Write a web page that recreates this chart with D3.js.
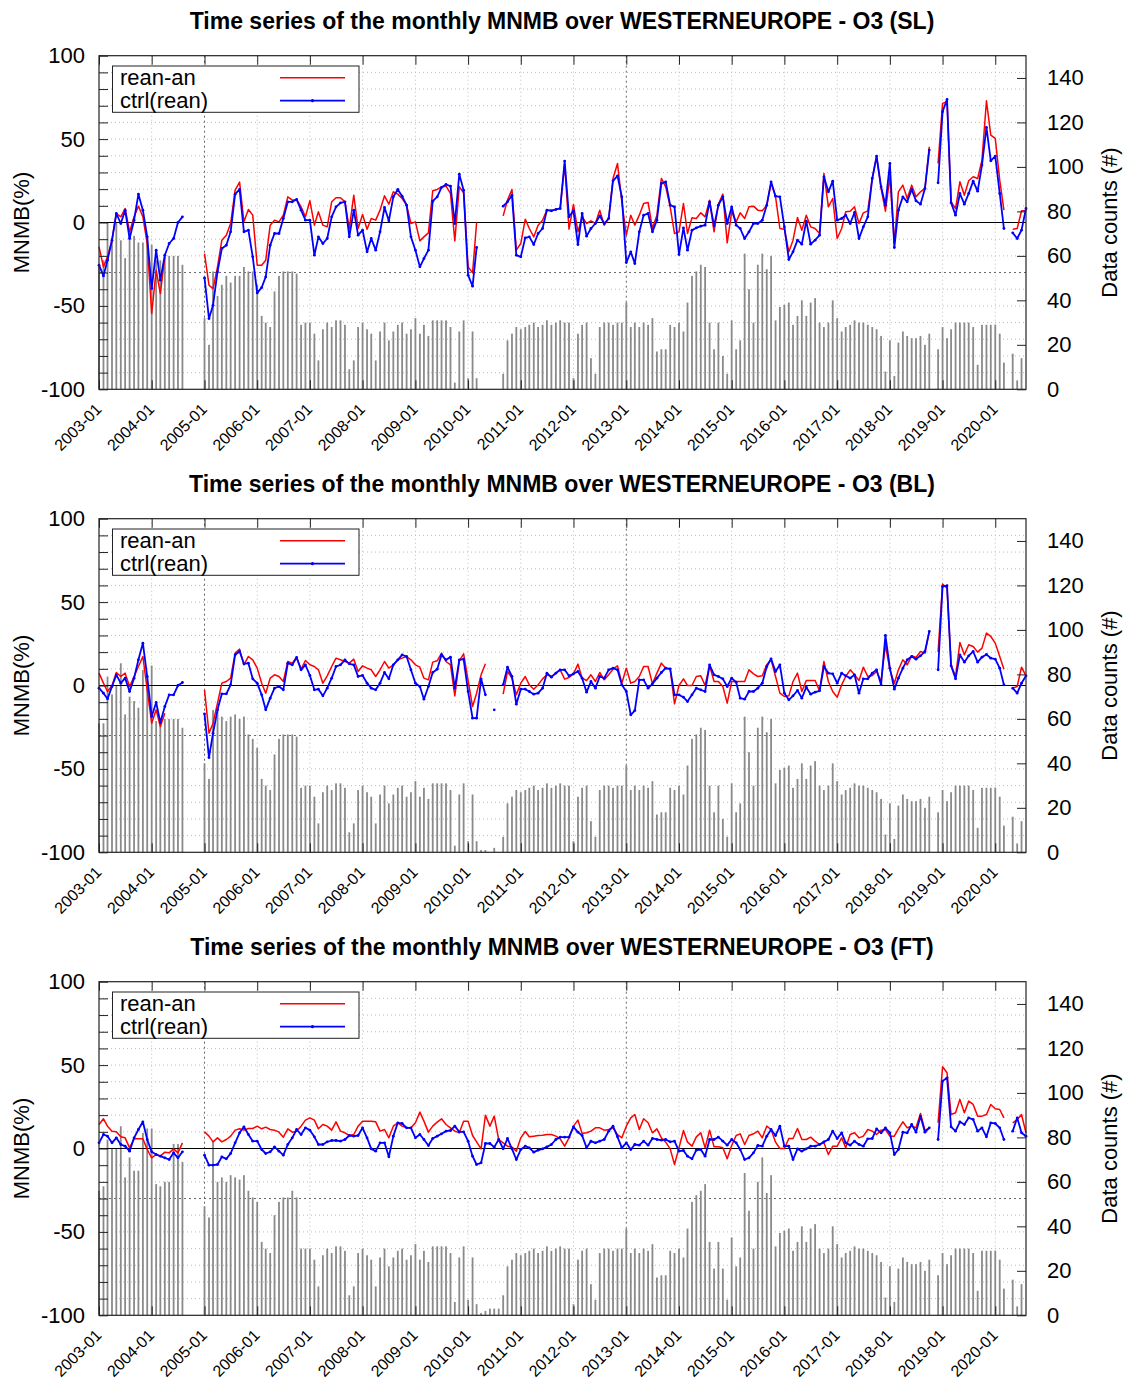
<!DOCTYPE html>
<html><head><meta charset="utf-8">
<script src="https://cdn.jsdelivr.net/npm/d3@7"></script>
<style>
body{margin:0;background:#fff}
svg{display:block}
text{font-family:"Liberation Sans",Arial,Helvetica,sans-serif;fill:#000}
</style></head>
<body><svg id="c" width="1125" height="1381"></svg>
<script>
// ---------------- DATA ----------------
const firstMonth = "2003-01", lastMonth = "2020-08";
const xTickLabels = ["2003-01","2004-01","2005-01","2006-01","2007-01","2008-01","2009-01","2010-01","2011-01","2012-01","2013-01","2014-01","2015-01","2016-01","2017-01","2018-01","2019-01","2020-01"];
const yTicksLeft = [-100,-50,0,50,100];
const yTicksRight = [0,20,40,60,80,100,120,140];
const seriesNames = ["rean-an","ctrl(rean)"];
const panelTitles = [
  "Time series of the monthly MNMB over WESTERNEUROPE - O3 (SL)",
  "Time series of the monthly MNMB over WESTERNEUROPE - O3 (BL)",
  "Time series of the monthly MNMB over WESTERNEUROPE - O3 (FT)"
];

const redSL = [-14.6,-26.6,-20.6,-10.6,5.4,3.4,8.4,-5.6,3.4,9.8,3.4,-12.6,
-54.6,-28.6,-42.6,-20.6,null,null,null,null,null,null,null,null,
-18.6,-37.6,-39.6,-26.6,-10.6,-7.6,-0.6,19.4,24.2,0.4,7.8,4.4,
-25.6,-25.6,-22.6,-1.6,1.4,0.4,4.4,15.4,13.4,13.8,9.4,3.4,
13,-1.6,6.4,-1.6,-2.6,12.4,14.8,14.8,12.4,-3.6,16.4,-3.6,
4.8,-4,2.4,1.4,7.4,16,11,18.4,17,14.4,10.4,-0.6,
0.4,-11,-8.6,-6.2,19,19.8,21.4,21.8,17.4,-11,21.4,17.8,
-26.6,-30.2,0,null,null,null,null,null,4,13.4,19.8,-16.6,
-12.6,2,-3.6,-8.6,-1.6,1.4,7.4,7.4,7.8,8.4,35,-4,
10.8,-5.6,3.4,-0.6,1,-0.6,7.4,-1.6,2.4,26.4,35.4,12.4,
-7.6,4.4,-1.6,4.4,11.4,12,-3.6,4.4,26.4,21.4,9.4,-6.6,
-5.6,11.4,-6.6,2.8,2.4,5.8,3.4,13.4,-5.6,11,17,-12.2,
6.4,0.4,5.8,2.4,9.4,9.8,7.4,7,10.4,23.8,15.4,-3.6,
-4,-17.6,-10.6,3,-4.6,4.4,-2.6,-3.6,-6.6,29.4,9.4,14.4,
-9.6,-3.6,6.4,6.8,9.4,-0.6,5.8,7,26.4,39.4,20.4,6.8,
27.4,-12.6,18.4,22.4,14.4,22.4,15.4,18.4,20.4,45.4,null,35.4,
71.4,72.4,12.4,8.4,24.4,16.4,25,27.4,26.4,37.4,73,52.4,
50.4,25.4,7.4,null,-4,-3.6,7,7];

const blueSL = [-25.6,-32,-22.6,-10.6,5.4,-0.6,7.4,-9.6,1.4,17,7.4,-8.6,
-39.6,-16.6,-34.6,-19.6,-12.6,-9.6,0,3.4,null,null,null,null,
-33.2,-57.6,-49.6,-29.6,-15.6,-13.6,-5.6,17,19.8,-5.6,-4.6,-20.6,
-42.2,-39,-32.6,-13.6,-6.6,-6.6,2.4,12.4,12.4,13.8,7.4,1.4,
1.4,-19.6,-8.6,-12.6,-9.6,3.4,9.4,11.8,12.4,-8.6,7.4,-7.6,
-4.6,-17.6,-9.6,-16.6,-5.6,9,1,15.4,19.8,15.8,10.4,-8.6,
-16.6,-26.6,-21.6,-16.6,12.8,15.4,21,22.8,21.8,-0.6,29,19.4,
-31.6,-38.2,-15,null,null,null,null,null,9.8,12.4,16.4,-19.6,
-20.6,-9.2,-8.6,-13.2,-6.6,-3.6,7.4,7,7.8,8.4,36.8,3.4,
7,-13.2,5.4,-8.2,-3.6,-0.6,4,-0.6,2.4,25,28,15.4,
-24,-17.6,-24.6,-5.6,4.4,5.4,-5.6,1.4,23.4,24.4,10.4,9.4,
-19.2,-3.2,-16.6,-4.6,-3.2,-2.2,-1.6,12.4,-2,10.4,15.4,-0.6,
9.4,-1.6,-3.6,-9.6,-5.6,-0.6,-0.6,1.4,10.4,24.4,15.8,15.4,
-2.6,-22.2,-17.6,-10.6,-13,0.8,-13,-10.6,-7.6,27.4,18.4,24.8,
1.4,2.4,4.4,-0.6,6,-9.6,-2.6,3.4,26.4,39.8,21.4,10.4,
35.4,-15,7.4,15.4,12.4,19.8,13,11,20.4,43.4,null,23.8,
66.4,73.8,11.8,4.4,17.4,11,17.4,24.8,18.8,34.4,57,37,
39.8,17.4,-3.6,null,-6.2,-9.6,-4.6,8.4];

const redBL = [7.4,1.4,-3.6,-0.2,7.8,5.4,7.4,-0.6,5.4,11.4,17.4,-2.6,
-22.6,-14.6,-24.6,-16.6,null,null,null,null,null,null,null,null,
-2.6,-28.6,-22.6,-10.6,1.4,2.4,4.4,19.4,21.8,12.4,17.4,15.4,
10.4,1.4,-4.6,4.4,6.4,5.4,2.4,14.4,13.4,17,9.8,15,
12.4,11.4,9.4,1.4,5.8,11.4,16.4,15.4,14.4,13.4,15.8,8.4,
11.8,10.4,9.4,5.4,9.4,14.4,10.4,12.4,15.4,16.4,17.4,15.4,
12.4,11,4.4,3.4,14,14.8,19.4,14.4,12.4,-6.2,14.8,19,
3,-12.6,-4.6,6.4,13,null,null,null,-5.2,8.4,4.4,-5.6,
1.4,5.4,0.4,-2.2,0.4,4,6.4,5.4,7.4,9.4,3.8,4.8,
7,12.8,4.4,3,6.4,2.4,7.8,3.4,6.4,9.8,11.8,1.4,
10.4,1.4,2.4,5.4,11.4,11.4,1,7.4,13.4,10.4,9.8,-11,
0,4,0,0,5.4,5.8,0,12,2.4,2.4,-0.6,-10.6,
2.4,2.4,2.4,2.4,9.4,7,5.4,5.8,12.4,15.4,5.4,-4.6,
-6.6,-6.2,2.4,7.4,-3.6,3,3,3,-3.2,14.4,2.4,-3.6,
-7,0.4,5.4,9.4,6.4,3,11,5.4,6,8.4,2.4,24.4,
9.4,1.4,9.4,15.4,12.4,17.8,16.8,20.4,19.4,32.4,null,20,
60.8,58.4,12.4,5.4,25.8,18.4,24.4,23.4,20,22.4,31.4,29.4,
25.4,17.4,9.8,null,-1.6,-0.6,11,5.8];

const blueBL = [-1.6,-4.6,-8,-0.6,6.4,1.4,4.4,-3.6,4.4,15.4,25.4,5.4,
-18.6,-10.2,-22.2,-12.6,-5.6,-5.6,0,1.8,null,null,null,null,
-17,-43.2,-28.6,-14.6,-5,-5,0.4,18.4,20.4,13,13.4,4,
1.4,-5.6,-14.6,-7.6,-1.6,-0.6,-2.6,13.4,12.4,16.8,9.4,12.4,
6,-2.6,-2.2,-6.2,-1.6,4.4,11.4,12.4,15.4,13,12.4,5.4,
6,1.4,-1.6,-2.6,1.4,7.8,4,12.4,15.4,18.4,17.4,9.4,
1.4,-0.6,-8.2,-0.6,7.8,9.8,18.4,15.4,17,-1.6,15.4,15.8,
-3.6,-19.6,-19.6,4,-5.6,null,-14.6,null,0.4,11,5.4,-11.2,
-2.2,-2.2,-3.6,-5.2,-4.6,-1.6,7.4,5,7.4,9.4,9.4,5.8,
7,8.4,4.4,-4,2.4,-1.6,5.4,4.4,9.4,10.4,9.4,0.4,
-3.6,-17.6,-15,3.4,3.4,-1.6,1,4.4,7.8,10.4,10,-5.6,
-5.6,-7,-9.6,-5.6,-1.6,-2.6,-3.6,12.4,6.4,5.4,4,-0.6,
4.4,2,-7.6,-8.2,-3.6,-3.6,-1.6,1.4,11.4,16,8.4,12.4,
-4.6,-8.6,-6.2,-3,-7.6,-1,-5.2,-4,-3.2,11.4,7.4,7,
1.4,7.4,5.8,4.4,6.4,-4.6,4,4,7.4,9.4,0.4,30,
10.4,-2.2,4.4,10.4,15.4,17.4,15.8,17.8,20.4,32.4,null,9.4,
59.4,59.8,11.8,4,18.4,14,17.8,20.4,14,17,18.6,16.4,
15.8,10.4,0.4,null,-1.6,-4.6,1.4,5.8];

const redFT = [14.4,17.8,13.4,10.4,10,7,6.4,0.4,5.8,5.8,5.8,-0.6,
-5.6,-3.6,-4.6,-2.2,-2.6,-0.2,-2.6,3.4,null,null,null,null,
10,7.4,4,6.4,4,5.4,7.4,11,11.8,11,12,12,
13.4,11.8,12.8,11.4,11,9.8,6.8,11.8,9.8,10.4,13.4,17,
18.4,17,11.8,14.4,13.4,11,16,10.4,9.4,7.8,8.4,13.4,
16.4,16.4,16.4,16,10.4,11.4,6.4,13.4,15.4,13.4,12.4,12.4,
15.4,21.8,16.4,9.8,13.4,15.8,17.8,14.4,12.4,10.4,9.4,16.4,
16.4,7.8,4,-0.2,20,13.4,19.4,5.4,3.4,1.4,0.8,-1.6,
6.4,10.2,7,7.4,7.8,8,8.4,8.4,7.4,5.8,1.4,6.4,
13.4,17,9,9.4,10.4,12.4,12.4,11,11.4,12.4,8.4,6.4,
13.4,18.4,20.4,11.4,17.8,15.4,9.4,11.8,6.4,3.8,-0.2,-9.6,
0.4,10.8,3.8,1.4,7,9.4,0.4,11,1,1,0.4,-6.2,
1.8,7.8,8.8,2.4,7.8,8.8,10.4,6.4,13.4,11.4,3.8,0,
0,6,6,12,5.4,5.4,6.8,4.4,2.4,3.4,-3.6,1.4,
1.4,6.4,0.4,8.4,9.4,6.4,7.4,11.4,10.4,8.4,11,11.4,
7.4,7.4,11.8,16,12.4,13.4,12.4,21,10.8,12.4,null,15.4,
49,45.4,20.4,21.4,29.4,21.4,28.4,26.4,19.4,19.4,20.4,26.4,
23.8,23.4,18.4,null,15.4,17.4,20.4,9.4];

const blueFT = [3.4,8.4,7.4,3.4,6.4,2.4,1.4,-1.6,6.4,11.4,16,5.4,
-2,-3.6,-4.6,-5.6,-6.6,-2.6,-5.6,-2,null,null,null,null,
-4,-10,-10,-9.6,-5,-6.2,-3,3.4,9.4,13,8.4,4.4,
4.4,-0.6,-3,-2,1,-1.6,-4,2.4,6.4,11.4,8.4,12.4,
11,7,2.4,2.4,4,4.8,4.8,4.4,5.4,7.8,7.4,7.8,
12.4,6.4,-0.2,-1.6,3.4,3.4,-5,7.4,15.4,15,12.4,12.4,
6.4,8.4,5.4,1.8,6,7.4,8.8,10.4,10.8,13.4,10,10,
4.4,-4.6,-9.6,-8.6,3,3,0.8,5.4,-0.2,6,-0.2,-6.6,
-0.6,1.4,0.4,-2.2,-1,-0.2,1,2.4,5.4,6.8,6.8,6.8,
13,9.8,7.8,0.4,4.4,3.4,4.4,5.4,10.4,13.4,7,0.4,
3.4,-0.6,2.4,2,4.4,2,6,5.4,5,5.4,4,4.4,
-1.6,-1.2,-4.6,-6.2,-1,-0.6,-4.6,5.4,5.4,6.8,4.4,2,
5.4,3.4,-0.6,-6.6,-5.6,-2.6,1.8,1.4,7.4,11.4,7.8,13.4,
1.4,1.4,-6.6,-0.2,-1.6,-0.2,1.4,1.4,2.4,4,5.4,10.4,
6,9.4,3.4,2,4.4,2.4,1.4,5.8,6,11.8,9.4,12.4,
9.4,-3.6,-0.6,9.8,9.4,14.4,9.8,19.4,9.8,12.4,null,5.4,
40.4,42.4,13,10.4,16,14.4,18.4,17.4,10.4,12.4,7,15.4,
15,12.4,5.4,null,10.4,18.4,9.4,7.4];

const countsSL = [56,58,75,68,75,67,59,70,69,66,66,68,
65,58,58,60,60,60,60,56,0,0,0,0,
32,20,53,42,47,51,48,51,51,55,53,53,
47,33,30,28,44,51,53,53,53,52,29,30,
30,25,13,27,30,28,31,31,29,9,13,28,
30,27,25,13,26,30,22,26,29,30,25,27,
32,25,29,24,31,31,31,31,28,3,26,31,
5,26,5,0,0,0,0,0,7,22,25,28,
27,28,29,30,28,29,31,29,30,31,30,30,
5,25,29,30,14,7,28,30,30,29,30,30,
39,28,30,28,30,29,32,17,18,18,29,28,
30,26,39,51,53,56,55,30,18,30,15,7,
31,18,22,61,45,30,56,61,54,60,31,37,
38,39,29,33,40,33,39,41,30,28,30,40,
32,26,28,29,31,30,30,29,28,27,24,8,
22,6,21,26,24,23,23,24,20,25,0,18,
28,23,27,30,30,30,30,28,11,29,29,29,
29,25,12,0,16,4,14,0];

const countsBL = [58,58,79,71,75,85,62,70,68,65,82,79,
84,59,58,60,60,60,60,56,0,0,0,0,
40,33,64,64,61,59,61,62,60,61,53,51,
47,33,30,28,44,51,53,53,53,52,29,30,
30,25,13,27,30,28,31,31,29,9,13,28,
30,27,25,13,26,30,22,26,29,30,25,27,
32,25,29,24,31,31,31,31,28,3,26,31,
5,26,5,1,1,0,2,0,7,22,25,28,
27,28,29,30,28,29,31,29,30,31,30,30,
5,25,29,30,14,7,28,30,30,29,30,30,
39,28,30,28,30,29,32,17,18,18,29,28,
30,26,39,51,53,56,55,30,18,30,15,7,
31,18,22,61,45,30,56,61,54,60,31,37,
38,39,29,33,40,33,39,41,30,28,30,40,
32,26,28,29,31,30,30,29,28,27,24,8,
22,6,21,26,24,23,23,24,20,25,0,18,
28,23,27,30,30,30,30,28,11,29,29,29,
29,25,12,0,16,4,14,0];

const countsFT = [56,58,79,75,75,85,62,71,65,65,82,84,
84,59,58,60,60,77,77,69,0,0,0,0,
49,44,78,60,62,60,63,62,61,63,56,53,
51,33,30,28,45,51,53,53,56,53,30,30,
30,25,13,27,30,28,31,31,29,9,13,28,
30,27,25,13,26,30,22,26,29,30,25,27,
32,25,29,24,31,31,31,31,28,6,26,31,
7,26,5,1,2,3,3,3,9,22,25,28,
27,28,29,30,28,29,31,29,30,31,30,30,
5,25,29,30,14,7,28,30,30,29,30,30,
39,28,30,28,30,29,32,17,18,18,29,28,
30,26,39,51,54,56,59,33,21,33,21,7,
35,22,26,64,47,30,60,71,55,63,31,37,
38,39,29,33,40,33,39,41,30,28,30,40,
32,26,28,29,31,30,30,29,28,27,24,8,
22,6,21,26,24,23,23,24,20,25,0,18,
28,23,27,30,30,30,30,28,11,29,29,29,
29,25,12,0,16,4,14,0];

// ---------------- LAYOUT ----------------
const W = 1125;
const L = 99, R = 1026, H = 333.6;
const panelTops = [55.7, 518.7, 981.7];
const panels = [
  {title: panelTitles[0], red: redSL, blue: blueSL, counts: countsSL},
  {title: panelTitles[1], red: redBL, blue: blueBL, counts: countsBL},
  {title: panelTitles[2], red: redFT, blue: blueFT, counts: countsFT}
];

const parse = d3.timeParse("%Y-%m");
const dates = d3.timeMonth.range(parse(firstMonth), d3.timeMonth.offset(parse(lastMonth), 1));
const x = d3.scaleTime().domain([parse(firstMonth), parse(lastMonth)]).range([L, R]);
const tickDates = xTickLabels.map(parse);
const darkYears = ["2005-01","2013-01"].map(parse);

const svg = d3.select("#c");
svg.append("rect").attr("width", W).attr("height", 1381).attr("fill", "#fff");

panels.forEach((p, i) => {
  const top = panelTops[i], bot = top + H;
  const y = d3.scaleLinear().domain([-100, 100]).range([bot, top]);
  const y2 = d3.scaleLinear().domain([0, 150]).range([bot, top]);
  const g = svg.append("g");

  // title
  g.append("text").attr("x", 562).attr("y", top - 27)
    .attr("text-anchor", "middle").attr("font-size", 23).attr("font-weight", "bold")
    .text(p.title);

  // grid
  const grid = g.append("g");
  grid.selectAll(".gx").data(tickDates.slice(1)).join("line")
    .attr("x1", d => x(d)).attr("x2", d => x(d)).attr("y1", top).attr("y2", bot)
    .attr("stroke", d => darkYears.some(z => +z === +d) ? "#666" : "#bcbcbc")
    .attr("stroke-width", 1)
    .attr("stroke-dasharray", d => darkYears.some(z => +z === +d) ? "2,3" : "1,3");
  grid.selectAll(".gy").data(d3.range(-90, 100, 10).filter(v => v !== 0)).join("line")
    .attr("x1", L).attr("x2", R).attr("y1", d => y(d)).attr("y2", d => y(d))
    .attr("stroke", d => d === -30 ? "#666" : "#bcbcbc")
    .attr("stroke-width", 1)
    .attr("stroke-dasharray", d => d === -30 ? "2,3" : "1,3");

  // bars (data counts)
  g.append("g").selectAll("rect").data(p.counts.map((c, k) => ({d: dates[k], c})).filter(o => o.c > 0))
    .join("rect")
    .attr("x", o => x(o.d) - 0.9).attr("width", 1.8)
    .attr("y", o => y2(o.c)).attr("height", o => bot - y2(o.c))
    .attr("fill", "#8a8a8a");

  // zero line
  g.append("line").attr("x1", L).attr("x2", R).attr("y1", y(0)).attr("y2", y(0))
    .attr("stroke", "#000").attr("stroke-width", 1);

  // lines
  const line = d3.line().defined(o => o.v !== null).x(o => x(o.d)).y(o => y(o.v));
  const redData = p.red.map((v, k) => ({d: dates[k], v}));
  const blueData = p.blue.map((v, k) => ({d: dates[k], v}));
  g.append("path").datum(redData).attr("d", line)
    .attr("fill", "none").attr("stroke", "#ff0000").attr("stroke-width", 1.5).attr("stroke-linejoin", "round");
  g.append("path").datum(blueData).attr("d", line)
    .attr("fill", "none").attr("stroke", "#0000ff").attr("stroke-width", 1.8).attr("stroke-linejoin", "round");
  g.append("g").selectAll("circle").data(blueData.filter(o => o.v !== null)).join("circle")
    .attr("cx", o => x(o.d)).attr("cy", o => y(o.v)).attr("r", 1.4).attr("fill", "#0000ff");

  // ticks (inward) via axes
  const tickStyle = sel => { sel.select(".domain").remove(); sel.selectAll("line").attr("stroke", "#222"); sel.selectAll("text").remove(); };
  g.append("g").attr("transform", `translate(${L},0)`)
    .call(d3.axisLeft(y).tickValues(d3.range(-100, 101, 10)).tickSize(-9)).call(tickStyle);
  g.append("g").attr("transform", `translate(${R},0)`)
    .call(d3.axisRight(y2).tickValues(yTicksRight).tickSize(-9)).call(tickStyle);
  g.append("g").attr("transform", `translate(0,${top})`)
    .call(d3.axisTop(x).tickValues(tickDates).tickSize(-9)).call(tickStyle);
  g.append("g").attr("transform", `translate(0,${bot})`)
    .call(d3.axisBottom(x).tickValues(tickDates).tickSize(-9)).call(tickStyle);

  // frame
  g.append("rect").attr("x", L).attr("y", top).attr("width", R - L).attr("height", H)
    .attr("fill", "none").attr("stroke", "#222").attr("stroke-width", 1.2);

  // tick labels (plain hyphen minus, as in the reference)
  const ax = g.append("g").attr("transform", `translate(${L},0)`)
    .call(d3.axisLeft(y).tickValues(yTicksLeft).tickSize(0).tickPadding(14).tickFormat(d => String(d)));
  ax.select(".domain").remove();
  ax.selectAll("text").attr("font-size", 22).attr("font-family", null);

  const ar = g.append("g").attr("transform", `translate(${R},0)`)
    .call(d3.axisRight(y2).tickValues(yTicksRight).tickSize(0).tickPadding(21).tickFormat(d => String(d)));
  ar.select(".domain").remove();
  ar.selectAll("text").attr("font-size", 22).attr("font-family", null);

  const ab = g.append("g").attr("transform", `translate(0,${bot})`)
    .call(d3.axisBottom(x).tickValues(tickDates).tickSize(0).tickFormat((d, k) => xTickLabels[k]));
  ab.select(".domain").remove();
  ab.selectAll("text").attr("font-size", 16).attr("font-family", null)
    .attr("x", 0).attr("y", 0).attr("dy", 0)
    .attr("text-anchor", "end")
    .attr("transform", "translate(3,21) rotate(-45)");

  // axis titles
  g.append("text").attr("transform", `translate(29,${y(0)}) rotate(-90)`)
    .attr("text-anchor", "middle").attr("font-size", 22).text("MNMB(%)");
  g.append("text").attr("transform", `translate(1117,${y(0)}) rotate(-90)`)
    .attr("text-anchor", "middle").attr("font-size", 22).text("Data counts (#)");

  // legend
  const lg = g.append("g");
  lg.append("rect").attr("x", 112.5).attr("y", top + 10.3).attr("width", 246.5).attr("height", 46.3)
    .attr("fill", "#fff").attr("stroke", "#222").attr("stroke-width", 1);
  lg.append("text").attr("x", 120).attr("y", top + 29.5).attr("font-size", 22).text(seriesNames[0]);
  lg.append("text").attr("x", 120).attr("y", top + 52.5).attr("font-size", 22).text(seriesNames[1]);
  lg.append("line").attr("x1", 280).attr("x2", 345).attr("y1", top + 22).attr("y2", top + 22)
    .attr("stroke", "#ff0000").attr("stroke-width", 1.5);
  lg.append("line").attr("x1", 280).attr("x2", 345).attr("y1", top + 45).attr("y2", top + 45)
    .attr("stroke", "#0000ff").attr("stroke-width", 1.8);
  lg.append("circle").attr("cx", 312.5).attr("cy", top + 45).attr("r", 1.6).attr("fill", "#0000ff");
});
</script>
</body></html>
